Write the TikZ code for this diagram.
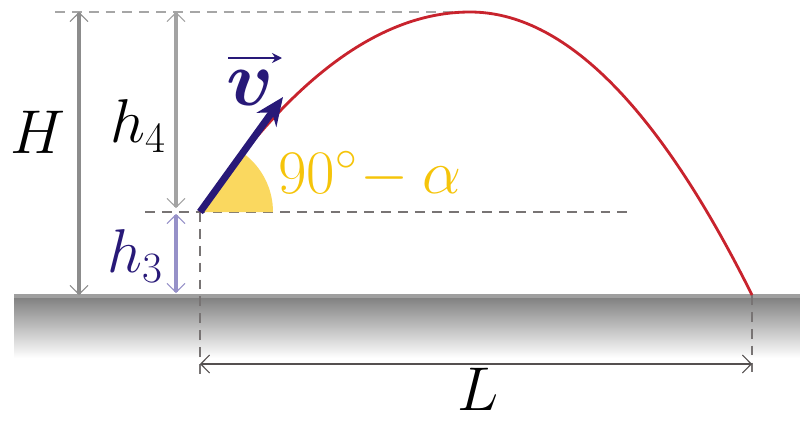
\RequirePackage{fix-cm}
\documentclass[tikz,border=0pt]{standalone}
\usepackage{tikz}
\usetikzlibrary{arrows.meta, positioning, calc}
\definecolor{vecblue}{RGB}{40,25,120}
\definecolor{trajred}{RGB}{200,35,45}
\definecolor{angyellow}{RGB}{245,196,10}
\definecolor{wedgeyellow}{RGB}{250,216,95}
\definecolor{groundgray}{RGB}{128,128,128}
\definecolor{dimgray}{RGB}{140,140,140}
\definecolor{dashgray}{RGB}{120,116,116}
\definecolor{hviolet}{RGB}{150,145,200}
\definecolor{lgray}{RGB}{85,80,80}

\begin{document}
\begin{tikzpicture}[
    x=0.025cm, y=-0.025cm,
    >={Straight Barb[length=2.2mm, width=4.5mm, line width=0.8pt]},
    dashln/.style={dashgray, line width=1.9pt, dash pattern=on 7pt off 5pt},
    dim/.style={<->, line width=2.4pt},
    lab/.style={inner sep=0pt, font=\fontsize{44}{48}\selectfont},
]
    \useasboundingbox (0,0) rectangle (800,421);

    % ground
    \shade[top color=groundgray, bottom color=white] (14,297) rectangle (800,358);
    \draw[line width=2.5pt, gray!75] (14,296) -- (800,296);

    % key points
    \coordinate (O) at (200,212);
    \coordinate (apex) at (470,12);
    \coordinate (land) at (752,295);
    \coordinate (topL) at (55,12);
    \coordinate (levR) at (630,212);
    \coordinate (levL) at (145,212);
    \coordinate (Obot) at (200,378);
    \coordinate (landbot) at (752,378);

    % dashed guides
    \draw[dashln, gray!70] (topL) -- (apex);
    \draw[dashln] (levL) -- (levR);
    \draw[dashln] (O) -- (Obot);
    \draw[dashln] (land) -- (landbot);

    % angle
    \fill[wedgeyellow] (O) -- ++(73,0) arc[start angle=0, end angle=-53.5, radius=73] -- cycle;
    \node[lab, text=angyellow, anchor=west] (ang) at (278,175) {$90^\circ\!-\alpha$};

    % trajectory
    \draw[trajred, line width=2pt] (O) .. controls (290,78.7) and (380,12) .. (apex)
        .. controls (564,12) and (658,106.3) .. (land);

    % velocity
    \coordinate (vtip) at (283,97);
    \draw[vecblue, line width=5pt, -{Stealth[length=7mm, width=6mm]}] (O) -- (vtip);
    \node[lab, text=vecblue, font=\fontsize{56}{60}\selectfont\boldmath] (vlab) at (250,88) {$v$};
    \coordinate (va) at (228,58);
    \coordinate (vb) at (282,58);
    \draw[vecblue, line width=1.2pt, -{Stealth[length=2.5mm, width=2.5mm]}] (va) -- (vb);

    % heights
    \coordinate (Htop) at (79,12);
    \coordinate (Hbot) at (79,295);
    \draw[dim, dimgray] (Htop) -- (Hbot);
    \node[lab] (Hlab) at (38,132) {$H$};

    \coordinate (h4top) at (176,12);
    \coordinate (h4bot) at (176,208);
    \draw[dim, dimgray!80] (h4top) -- (h4bot);
    \node[lab] (h4lab) at (138,126) {$h_4$};

    \coordinate (h3top) at (176,214);
    \coordinate (h3bot) at (176,293);
    \draw[dim, hviolet] (h3top) -- (h3bot);
    \node[lab, text=vecblue] (h3lab) at (135,256) {$h_3$};

    % range
    \coordinate (Lleft) at (200,364);
    \coordinate (Lright) at (752,364);
    \draw[<->, lgray, line width=1.5pt] (Lleft) -- (Lright);
    \node[lab] (Llab) at (478,389) {$L$};
\end{tikzpicture}
\end{document}
